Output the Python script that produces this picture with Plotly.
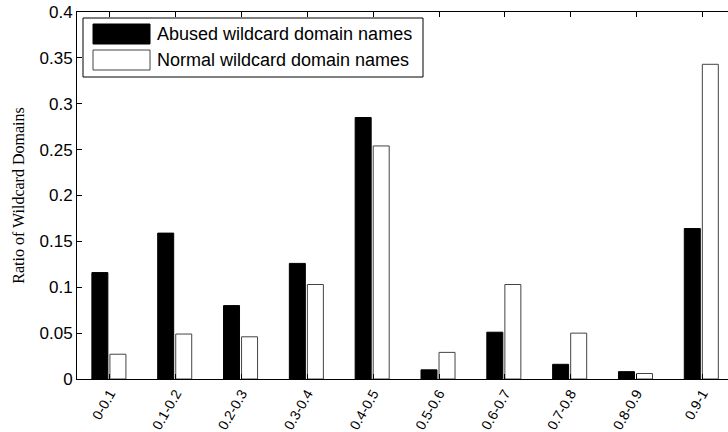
import plotly.graph_objects as go

categories = ["0-0.1", "0.1-0.2", "0.2-0.3", "0.3-0.4", "0.4-0.5",
              "0.5-0.6", "0.6-0.7", "0.7-0.8", "0.8-0.9", "0.9-1"]
abused = [0.116, 0.159, 0.080, 0.126, 0.285, 0.010, 0.051, 0.016, 0.008, 0.164]
normal = [0.027, 0.049, 0.046, 0.103, 0.254, 0.029, 0.103, 0.050, 0.006, 0.343]
y_ticks = [0, 0.05, 0.1, 0.15, 0.2, 0.25, 0.3, 0.35, 0.4]
y_ticklabels = ["0", "0.05", "0.1", "0.15", "0.2", "0.25", "0.3", "0.35", "0.4"]
legend_names = ["Abused wildcard domain names", "Normal wildcard domain names"]

W, H = 728, 432
ML, MR, MT, MB = 77, 0, 12, 53
PW, PH = W - ML - MR, H - MT - MB

def px(x):
    return (x - ML) / PW

def py(y):
    return (H - MB - y) / PH

fig = go.Figure()
fig.add_trace(go.Bar(x=categories, y=abused, name=legend_names[0],
                     marker=dict(color="black", line=dict(color="black", width=1)),
                     width=0.243, offset=-0.274, showlegend=False))
fig.add_trace(go.Bar(x=categories, y=normal, name=legend_names[1],
                     marker=dict(color="white", line=dict(color="#444444", width=1)),
                     width=0.243, offset=0.0, showlegend=False))

shapes = [
    dict(type="rect", xref="paper", yref="paper", x0=px(83), x1=px(423), y0=py(18), y1=py(77),
         line=dict(color="black", width=1), fillcolor="white", layer="above"),
    dict(type="rect", xref="paper", yref="paper", x0=px(93), x1=px(150), y0=py(24), y1=py(44),
         line=dict(color="black", width=1), fillcolor="black", layer="above"),
    dict(type="rect", xref="paper", yref="paper", x0=px(93), x1=px(150), y0=py(50), y1=py(70),
         line=dict(color="#444444", width=1), fillcolor="white", layer="above"),
]
annotations = [
    dict(xref="paper", yref="paper", x=px(155), y=py(34), text=legend_names[0],
         showarrow=False, xanchor="left", yanchor="middle",
         font=dict(family="Liberation Sans, Arial", size=18, color="black")),
    dict(xref="paper", yref="paper", x=px(155), y=py(60), text=legend_names[1],
         showarrow=False, xanchor="left", yanchor="middle",
         font=dict(family="Liberation Sans, Arial", size=18, color="black")),
]

fig.update_layout(
    width=W, height=H,
    margin=dict(l=ML, r=MR, t=MT, b=MB, autoexpand=False),
    plot_bgcolor="white", paper_bgcolor="white",
    barmode="overlay",
    shapes=shapes, annotations=annotations,
    font=dict(family="Liberation Sans, Arial", color="black"),
)
fig.update_xaxes(
    type="category", range=[-0.5, 9.39],
    showline=True, linecolor="black", linewidth=1, mirror="ticks",
    ticks="inside", ticklen=5, tickcolor="black",
    tickangle=-60, tickfont=dict(size=14, color="black"),
    showgrid=False, zeroline=False,
)
fig.update_yaxes(
    range=[0, 0.4], tickvals=y_ticks, ticktext=y_ticklabels,
    showline=True, linecolor="black", linewidth=1, mirror=False,
    ticks="inside", ticklen=5, tickcolor="black",
    tickfont=dict(size=17, color="black"),
    showgrid=False, zeroline=False,
    title=dict(text="Ratio of Wildcard Domains", standoff=10,
               font=dict(family="Liberation Serif, Times New Roman", size=16, color="black")),
)

fig.write_html("out.html", config={"displayModeBar": False},
               post_script="document.body.style.margin='0';document.body.style.overflow='hidden';")
